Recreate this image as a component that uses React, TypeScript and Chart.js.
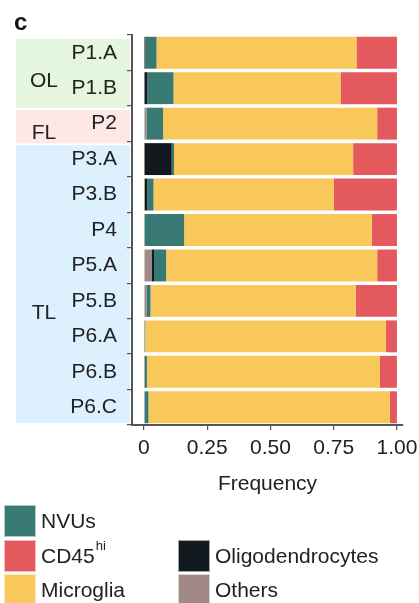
import React, { useEffect, useRef } from 'react';
import { Chart, registerables } from 'chart.js';

Chart.register(...registerables);

const categories = ['P1.A', 'P1.B', 'P2', 'P3.A', 'P3.B', 'P4', 'P5.A', 'P5.B', 'P6.A', 'P6.B', 'P6.C'];
const others = [0, 0, 0.01, 0, 0.003, 0, 0.03, 0.01, 0, 0, 0];
const oligodendrocytes = [0.006, 0.014, 0, 0.11, 0.01, 0, 0.01, 0, 0, 0, 0];
const nvus = [0.044, 0.103, 0.066, 0.009, 0.025, 0.159, 0.048, 0.016, 0.005, 0.012, 0.018];
const microglia = [0.79, 0.66, 0.846, 0.708, 0.713, 0.742, 0.834, 0.811, 0.952, 0.921, 0.954];
const cd45hi = [0.16, 0.223, 0.078, 0.173, 0.249, 0.099, 0.078, 0.163, 0.043, 0.067, 0.028];

const tickValues = [0, 0.25, 0.5, 0.75, 1];
const tickLabels = ['0', '0.25', '0.50', '0.75', '1.00'];

const groupNames = ['OL', 'FL', 'TL'];
const groupFirst = [0, 2, 3];
const groupLast = [1, 2, 10];

// styling / layout (not data)
const groupColors = ['#e4f6dd', '#fde8e6', '#ddf0fd'];
const groupLabelIndex = [0.8, 2.27, 7.35];
const COL = {
  nvus: '#397973',
  cd45: '#e3595d',
  micro: '#f8c95a',
  oligo: '#121a1f',
  others: '#a08987',
};
const FONT = '"Liberation Sans", Arial, Helvetica, sans-serif';
const TEXT = '#222222';

const decorPlugin = {
  id: 'decor',
  beforeDraw(chart: any) {
    const ctx = chart.ctx;
    const y = chart.scales.y;
    const band = (y.getPixelForValue(1) - y.getPixelForValue(0));
    ctx.save();
    for (let g = 0; g < groupNames.length; g++) {
      let top = y.getPixelForValue(groupFirst[g]) - band / 2 + 4;
      let bottom = y.getPixelForValue(groupLast[g]) + band / 2 + 4 - 2;
      if (bottom > chart.chartArea.bottom - 2) bottom = chart.chartArea.bottom - 2;
      ctx.fillStyle = groupColors[g];
      ctx.fillRect(16, top, 114, bottom - top);
      ctx.fillStyle = TEXT;
      ctx.font = `21px ${FONT}`;
      ctx.textAlign = 'center';
      ctx.textBaseline = 'middle';
      ctx.fillText(groupNames[g], 44, y.getPixelForValue(groupLabelIndex[g]));
    }
    ctx.restore();
  },
  afterDraw(chart: any) {
    const ctx = chart.ctx;
    ctx.save();
    // panel letter
    ctx.fillStyle = '#111';
    ctx.font = `900 24px ${FONT}`;
    ctx.textAlign = 'left';
    ctx.textBaseline = 'alphabetic';
    ctx.fillText('c', 14, 30);

    // legend
    const items = [
      { label: 'NVUs', color: COL.nvus, x: 4, y: 505 },
      { label: 'CD45', sup: 'hi', color: COL.cd45, x: 4, y: 540 },
      { label: 'Microglia', color: COL.micro, x: 4, y: 574 },
      { label: 'Oligodendrocytes', color: COL.oligo, x: 178, y: 540 },
      { label: 'Others', color: COL.others, x: 178, y: 574 },
    ];
    for (const it of items) {
      ctx.fillStyle = it.color;
      ctx.fillRect(it.x, it.y, 32, 32);
      ctx.strokeStyle = 'rgba(255,255,255,0.6)';
      ctx.lineWidth = 1;
      ctx.strokeRect(it.x + 0.5, it.y + 0.5, 31, 31);
      ctx.fillStyle = TEXT;
      ctx.font = `21px ${FONT}`;
      ctx.textBaseline = 'middle';
      ctx.textAlign = 'left';
      const tx = it.x + 37;
      const ty = it.y + 17;
      ctx.fillText(it.label, tx, ty);
      if (it.sup) {
        const w = ctx.measureText(it.label).width;
        ctx.font = `13px ${FONT}`;
        ctx.fillText(it.sup, tx + w + 1, ty - 11);
      }
    }
    ctx.restore();
  },
};

export default function App() {
  const ref = useRef<HTMLCanvasElement | null>(null);
  useEffect(() => {
    if (!ref.current) return;
    const font = { family: FONT, size: 21 };
    const axisGrid = {
      display: true,
      drawOnChartArea: false,
      drawTicks: true,
      tickLength: 5,
      color: '#555',
      lineWidth: 1.2,
    };
    const axisBorder = { display: true, color: '#555', width: 2 };
    const chart = new Chart(ref.current, {
      type: 'bar',
      data: {
        labels: categories,
        datasets: [
          { label: 'Others', data: others, backgroundColor: COL.others },
          { label: 'Oligodendrocytes', data: oligodendrocytes, backgroundColor: COL.oligo },
          { label: 'NVUs', data: nvus, backgroundColor: COL.nvus },
          { label: 'Microglia', data: microglia, backgroundColor: COL.micro },
          { label: 'CD45hi', data: cd45hi, backgroundColor: COL.cd45 },
        ].map((d) => ({ ...d, borderWidth: 0, barPercentage: 0.9, categoryPercentage: 1 })),
      },
      options: {
        indexAxis: 'y',
        responsive: false,
        animation: false,
        devicePixelRatio: 1,
        layout: { padding: { top: 35, right: 16, bottom: 103, left: 0 } },
        plugins: { legend: { display: false }, tooltip: { enabled: false } },
        scales: {
          x: {
            stacked: true,
            min: -0.047,
            max: 1.024,
            afterBuildTicks: (s: any) => {
              s.ticks = tickValues.map((v) => ({ value: v }));
            },
            afterFit: (s: any) => {
              s.height = 75;
              s.paddingLeft = 0;
              s.paddingRight = 0;
            },
            grid: axisGrid,
            border: axisBorder,
            ticks: {
              font,
              color: TEXT,
              padding: 6,
              maxRotation: 0,
              autoSkip: false,
              callback: (_v: any, i: number) => tickLabels[i],
            },
            title: {
              display: true,
              text: 'Frequency',
              font,
              color: TEXT,
              padding: { top: 0, bottom: 3 },
            },
          },
          y: {
            stacked: true,
            afterFit: (s: any) => {
              s.width = 132;
              s.paddingTop = 0;
              s.paddingBottom = 0;
            },
            grid: axisGrid,
            border: axisBorder,
            ticks: { font, color: TEXT, padding: 10, autoSkip: false },
          },
        },
      } as any,
      plugins: [decorPlugin],
    });
    return () => chart.destroy();
  }, []);
  return (
    <div style={{ position: 'absolute', left: 0, top: 0, width: 419, height: 603, background: '#fff' }}>
      <canvas ref={ref} width={419} height={603} style={{ display: 'block', width: 419, height: 603 }} />
    </div>
  );
}
